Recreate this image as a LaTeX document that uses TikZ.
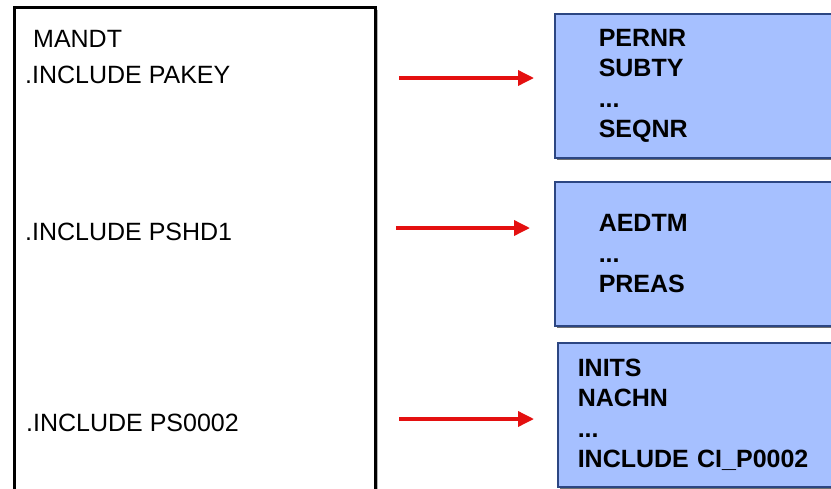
\documentclass[tikz,border=0pt]{standalone}
\usepackage{fontspec}
\setmainfont{Liberation Sans}
\usetikzlibrary{arrows.meta,shadows,positioning}
\definecolor{fieldblue}{RGB}{166,192,255}
\definecolor{fieldedge}{RGB}{44,70,130}
\definecolor{arrowred}{RGB}{228,16,16}
\tikzset{
  fieldbox/.style={draw=fieldedge,line width=1.5pt,fill=fieldblue,anchor=north west,
    minimum height=144pt,align=left,font=\fontsize{25}{30.5}\selectfont\bfseries,
    drop shadow={shadow xshift=2pt,shadow yshift=-2pt,fill=black!70,opacity=0.8}},
  incl/.style={anchor=base west,inner sep=0pt,font=\fontsize{25}{30}\selectfont},
  redarrow/.style={draw=arrowred,line width=3.5pt,-{Triangle[length=16pt,width=15pt]},
    shorten <=22pt}
}

\begin{document}
\begin{tikzpicture}[x=1pt,y=-1pt]
\useasboundingbox (0,0) rectangle (831,488);
\clip (0,0) rectangle (831,488);
% structure with its includes
\node[draw,line width=3pt,fill=white,anchor=north west,minimum width=361pt,minimum height=540pt,
  drop shadow={shadow xshift=2pt,shadow yshift=-2pt,fill=black!50,opacity=0.6}] (tab) at (13,6) {};
\node[incl] (mandt) at (33,47) {MANDT};
\node[incl] (pakey) at (25,83) {.INCLUDE PAKEY};
\node[incl] (pshd1) at (25,240) {.INCLUDE PSHD1};
\node[incl] (ps0002) at (26,431) {.INCLUDE PS0002};
% fields behind each include
\node[fieldbox,inner xsep=44pt,text width=210pt] (keyf) at (554,13) {PERNR\\SUBTY\\...\\SEQNR};
\node[fieldbox,inner xsep=44pt,text width=210pt] (hdrf) at (554,181) {AEDTM\\...\\PREAS};
\node[fieldbox,inner xsep=20pt,text width=258pt] (namef) at (557,342) {INITS\\NACHN\\...\\INCLUDE CI\_P0002};
% arrows
\coordinate (y1) at (0,78);
\coordinate (y2) at (0,228);
\coordinate (y3) at (0,419);
\draw[redarrow,shorten >=20pt] (tab.east |- y1) -- (keyf.west |- y1);
\draw[redarrow,shorten <=19pt,shorten >=24pt] (tab.east |- y2) -- (hdrf.west |- y2);
\draw[redarrow,shorten >=23pt] (tab.east |- y3) -- (namef.west |- y3);
\end{tikzpicture}
\end{document}
